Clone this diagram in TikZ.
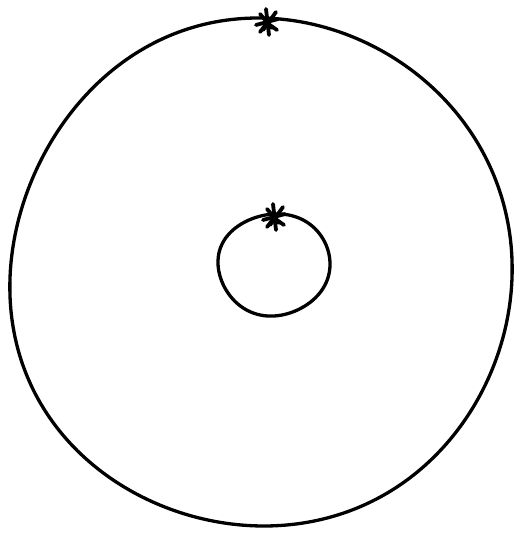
\documentclass[tikz,border=0pt]{standalone}
\usetikzlibrary{positioning}

\begin{document}
\begin{tikzpicture}[
    x=1pt, y=-1pt,
    rim/.style={line width=3.3pt, line join=round},
    spoke/.style={line width=3.8pt, line cap=round},
    knot/.pic={
      \draw[spoke] (-1,-13) -- (2,13);
      \draw[spoke] (-7,-8) -- (5,6);
      \draw[spoke] (9,-10) -- (-4,8);
      \draw[spoke] (-11,3) -- (11,-3);
      \draw[spoke] (-7,10) -- (0,1) -- (10,8);
    }
]
\useasboundingbox (0,0) rectangle (515,535);

\coordinate (outerknot) at (267,22);
\coordinate (innerknot) at (274,217);

% outer ring
\draw[rim] plot[smooth cycle, tension=0.6, domain=0:350, samples=36, variable=\t]
  ({261+251*cos(\t)+3*sin(3*\t)}, {275-254*sin(\t)+3*cos(2*\t)});

% inner ring
\draw[rim] plot[smooth cycle, tension=0.6, domain=0:345, samples=24, variable=\t]
  ({274+56*cos(\t)+1*sin(2*\t)}, {265-51*sin(\t)+1*cos(3*\t)});

\pic at (outerknot) {knot};
\pic at (innerknot) {knot};
\end{tikzpicture}
\end{document}
